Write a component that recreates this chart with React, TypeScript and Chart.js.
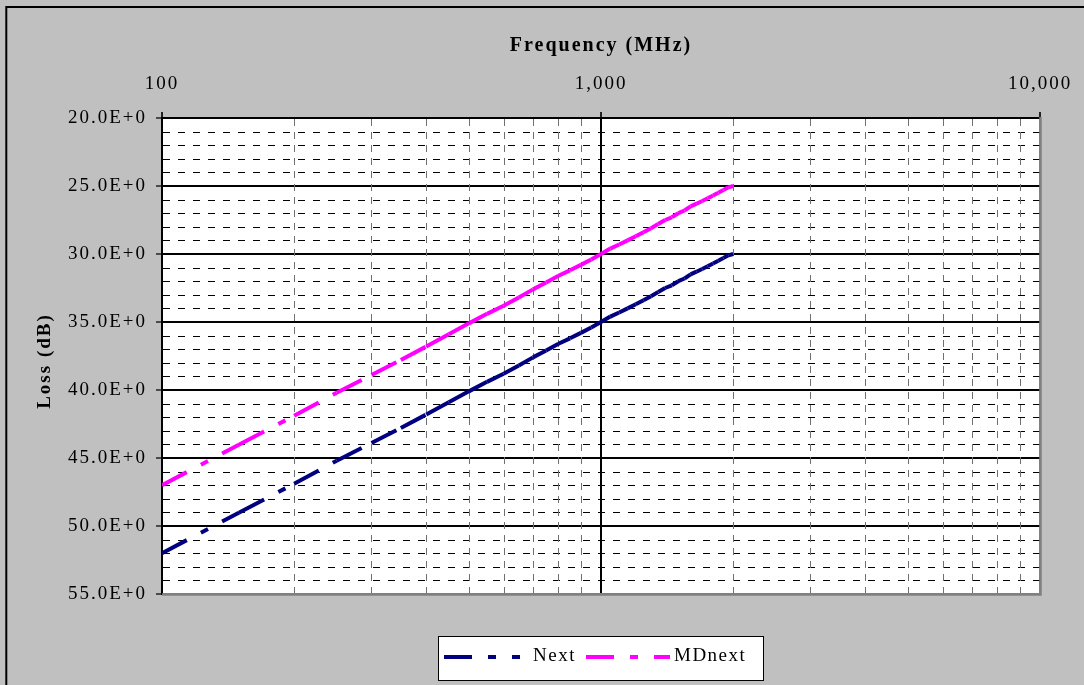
import React, { useEffect, useRef } from 'react';
import { Chart, registerables } from 'chart.js';

Chart.register(...registerables);

// ---- Data ----
const frequencies = [
  100, 150, 200, 250, 300, 350, 400, 450, 500, 550, 600, 650, 700, 750, 800, 850, 900, 950,
  1000, 1050, 1100, 1150, 1200, 1250, 1300, 1350, 1400, 1450, 1500, 1550, 1600, 1650, 1700,
  1750, 1800, 1850, 1900, 1950, 2000,
];
const nextLoss = [
  52.0, 49.0, 46.9, 45.2, 43.9, 42.8, 41.8, 40.9, 40.1, 39.4, 38.8, 38.2, 37.6, 37.1, 36.6, 36.2,
  35.8, 35.4, 35.0, 34.6, 34.3, 34.0, 33.7, 33.4, 33.1, 32.8, 32.5, 32.3, 32.0, 31.8, 31.5, 31.3,
  31.1, 30.9, 30.7, 30.5, 30.3, 30.1, 30.0,
];
const mdNextLoss = [
  47.0, 44.0, 41.9, 40.2, 38.9, 37.8, 36.8, 35.9, 35.1, 34.4, 33.8, 33.2, 32.6, 32.1, 31.6, 31.2,
  30.8, 30.4, 30.0, 29.6, 29.3, 29.0, 28.7, 28.4, 28.1, 27.8, 27.5, 27.3, 27.0, 26.8, 26.5, 26.3,
  26.1, 25.9, 25.7, 25.5, 25.3, 25.1, 25.0,
];
const seriesLabels = ['Next', 'MDnext'];
const xMajorTicks = [100, 1000, 10000];
const xMinorTicks = [200, 300, 400, 500, 600, 700, 800, 900, 2000, 3000, 4000, 5000, 6000, 7000, 8000, 9000];
const yMajorTicks = [20, 25, 30, 35, 40, 45, 50, 55];
const yMinorTicks = [
  21, 22, 23, 24, 26, 27, 28, 29, 31, 32, 33, 34, 36, 37, 38, 39, 41, 42, 43, 44, 46, 47, 48, 49,
  51, 52, 53, 54,
];
const xTitle = 'Frequency (MHz)';
const yTitle = 'Loss (dB)';

const SERIF = '"Liberation Serif", "Times New Roman", serif';

function patchSpacing(scale: any, spacing: string, titleShiftY = 0) {
  if (scale.$patched) return;
  scale.$patched = true;
  const origLabels = scale.drawLabels.bind(scale);
  const origTitle = scale.drawTitle.bind(scale);
  scale.drawLabels = (area: any) => {
    const ctx = scale.ctx;
    ctx.save();
    (ctx as any).letterSpacing = spacing;
    origLabels(area);
    ctx.restore();
  };
  scale.drawTitle = () => {
    const ctx = scale.ctx;
    ctx.save();
    (ctx as any).letterSpacing = spacing;
    ctx.translate(0, titleShiftY);
    origTitle();
    ctx.restore();
  };
}

const backgroundPlugin = {
  id: 'excelBackground',
  beforeDraw(chart: any) {
    const { ctx, width, height, chartArea } = chart;
    ctx.save();
    ctx.fillStyle = '#C0C0C0';
    ctx.fillRect(0, 0, width, height);
    ctx.strokeStyle = '#000';
    ctx.lineWidth = 2;
    ctx.beginPath();
    ctx.moveTo(6.3, height + 10);
    ctx.lineTo(6.3, 7);
    ctx.lineTo(width + 10, 7);
    ctx.stroke();
    ctx.fillStyle = '#FFFFFF';
    ctx.fillRect(chartArea.left, chartArea.top, chartArea.right - chartArea.left, chartArea.bottom - chartArea.top);
    ctx.restore();
  },
  beforeDatasetsDraw(chart: any) {
    const { ctx, chartArea, scales } = chart;
    const xs = scales.x;
    const ys = scales.y;
    ctx.save();
    ctx.lineWidth = 1;
    // minor horizontal (black dashed)
    ctx.strokeStyle = '#000';
    ctx.setLineDash([7, 8]);
    yMinorTicks.forEach((v) => {
      const y = Math.round(ys.getPixelForValue(v)) + 0.5;
      ctx.beginPath();
      ctx.moveTo(chartArea.left + 1, y);
      ctx.lineTo(chartArea.right, y);
      ctx.stroke();
    });
    // minor vertical (grey dashed)
    ctx.strokeStyle = '#707070';
    ctx.setLineDash([7, 6]);
    xMinorTicks.forEach((v) => {
      const x = Math.round(xs.getPixelForValue(v)) + 0.5;
      ctx.beginPath();
      ctx.moveTo(x, chartArea.top + 1);
      ctx.lineTo(x, chartArea.bottom);
      ctx.stroke();
    });
    ctx.setLineDash([]);
    // plot area right/bottom grey frame
    ctx.strokeStyle = '#808080';
    ctx.lineWidth = 2.5;
    ctx.beginPath();
    ctx.moveTo(chartArea.right + 0.5, chartArea.top - 1);
    ctx.lineTo(chartArea.right + 0.5, chartArea.bottom + 0.5);
    ctx.lineTo(chartArea.left, chartArea.bottom + 0.5);
    ctx.stroke();
    ctx.restore();
  },
  afterDraw(chart: any) {
    const ctx = chart.ctx;
    ctx.save();
    ctx.fillStyle = '#FFFFFF';
    ctx.fillRect(438, 636, 325, 44);
    ctx.strokeStyle = '#000';
    ctx.lineWidth = 1;
    ctx.strokeRect(438.5, 636.5, 325, 44);
    const items = [
      { x0: 444, x1: 520, tx: 533 },
      { x0: 586, x1: 670, tx: 674 },
    ];
    chart.data.datasets.forEach((ds: any, i: number) => {
      const it = items[i];
      ctx.beginPath();
      ctx.setLineDash(ds.borderDash);
      ctx.lineDashOffset = 0;
      ctx.strokeStyle = ds.borderColor;
      ctx.lineWidth = ds.borderWidth;
      ctx.moveTo(it.x0, 657);
      ctx.lineTo(it.x1, 657);
      ctx.stroke();
      ctx.setLineDash([]);
      ctx.fillStyle = '#000';
      ctx.font = `19px ${SERIF}`;
      (ctx as any).letterSpacing = '1.5px';
      ctx.textBaseline = 'middle';
      ctx.textAlign = 'left';
      ctx.fillText(ds.label, it.tx, 656);
      (ctx as any).letterSpacing = '0px';
    });
    ctx.restore();
  },
};

export default function App() {
  const canvasRef = useRef<HTMLCanvasElement | null>(null);

  useEffect(() => {
    document.body.style.margin = '0';
    const canvas = canvasRef.current;
    if (!canvas) return;

    const dash = [28, 16, 8, 16];
    const segment = {
      borderDashOffset: (c: any) => (c.p0DataIndex % 2) * 0.001,
    };

    const chart = new Chart(canvas, {
      type: 'line',
      data: {
        datasets: [
          {
            label: seriesLabels[0],
            data: frequencies.map((f, i) => ({ x: f, y: nextLoss[i] })),
            borderColor: '#000080',
            backgroundColor: '#000080',
            borderWidth: 4,
            borderDash: dash,
            pointRadius: 0,
            fill: false,
            tension: 0,
            segment,
          },
          {
            label: seriesLabels[1],
            data: frequencies.map((f, i) => ({ x: f, y: mdNextLoss[i] })),
            borderColor: '#FF00FF',
            backgroundColor: '#FF00FF',
            borderWidth: 4,
            borderDash: dash,
            pointRadius: 0,
            fill: false,
            tension: 0,
            segment,
          },
        ],
      },
      options: {
        animation: false,
        responsive: false,
        devicePixelRatio: 1,
        layout: { padding: { left: 0, top: 0, right: 44, bottom: 91 } },
        plugins: {
          legend: { display: false },
          tooltip: { enabled: false },
        },
        scales: {
          x: {
            type: 'logarithmic',
            position: 'top',
            min: 100,
            max: 10000,
            afterBuildTicks: (scale: any) => {
              scale.ticks = xMajorTicks.map((v) => ({ value: v, major: true }));
            },
            afterFit: (scale: any) => {
              scale.height = 118;
              patchSpacing(scale, '2px', 0);
            },
            ticks: {
              autoSkip: false,
              maxRotation: 0,
              padding: 17,
              color: '#000',
              font: { family: SERIF, size: 19 },
              callback: (v: any) => Number(v).toLocaleString('en-US'),
            },
            grid: {
              color: (c: any) => (c.tick && c.tick.value === 10000 ? '#808080' : '#000'),
              lineWidth: 2,
              tickLength: 6,
              tickColor: '#222',
              tickWidth: 2,
            },
            border: { display: true, color: '#000', width: 2 },
            title: {
              display: true,
              text: xTitle,
              color: '#000',
              font: { family: SERIF, size: 20, weight: 'bold' },
              padding: { top: 34, bottom: 0 },
            },
          },
          y: {
            type: 'linear',
            position: 'left',
            min: 20,
            max: 55,
            reverse: true,
            afterBuildTicks: (scale: any) => {
              scale.ticks = yMajorTicks.map((v) => ({ value: v }));
            },
            afterFit: (scale: any) => {
              scale.width = 162;
              patchSpacing(scale, '2px', 5);
            },
            ticks: {
              autoSkip: false,
              padding: 9,
              color: '#000',
              font: { family: SERIF, size: 19 },
              callback: (v: any) => Number(v).toFixed(1) + 'E+0',
            },
            grid: {
              color: (c: any) => (c.tick && c.tick.value === 55 ? '#808080' : '#000'),
              lineWidth: 2,
              tickLength: 6,
              tickColor: '#222',
              tickWidth: 1.5,
            },
            border: { display: true, color: '#000', width: 2 },
            title: {
              display: true,
              text: yTitle,
              color: '#000',
              font: { family: SERIF, size: 19, weight: 'bold' },
              padding: { top: 34, bottom: 0 },
            },
          },
        },
      },
      plugins: [backgroundPlugin],
    } as any);

    return () => {
      chart.destroy();
    };
  }, []);

  return (
    <div style={{ width: 1084, height: 685 }}>
      <canvas ref={canvasRef} width={1084} height={685} style={{ display: 'block' }} />
    </div>
  );
}
